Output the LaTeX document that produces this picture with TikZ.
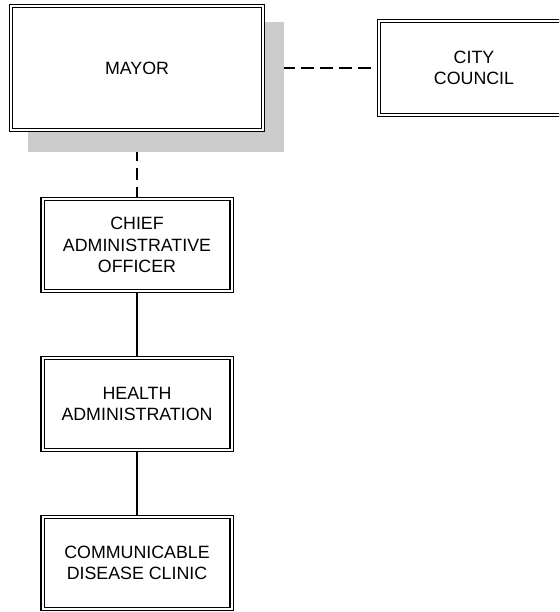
\documentclass[tikz,border=0pt]{standalone}
\usepackage{fontspec}
\setmainfont{Liberation Sans}
\usetikzlibrary{positioning,backgrounds}

\begin{document}
\begin{tikzpicture}[
    x=1pt, y=-1pt,
    node distance=67pt and 116pt,
    unit/.style={rectangle, draw=black, double=white, double distance=2pt,
                 line width=1.4pt, fill=white, align=center, inner sep=0pt,
                 outer sep=0pt, minimum width=189pt, minimum height=92pt,
                 font=\fontsize{17.8}{21.5}\selectfont},
    link/.style={line width=2.8pt, dash pattern=on 12.5pt off 6.5pt},
    tie/.style={line width=1.2pt}
]
\useasboundingbox (0,0) rectangle (559,612);
\clip (0,0) rectangle (559,612);

% Offices
\node[unit, minimum width=252pt, minimum height=124pt] (mayor) at (137,68) {MAYOR};
\node[unit, right=of mayor, minimum width=190pt, minimum height=94pt] (council) {CITY\\COUNCIL};
\node[unit, below=69pt of mayor] (cao) {CHIEF\\ADMINISTRATIVE\\OFFICER};
\node[unit, below=of cao] (health) {HEALTH\\ADMINISTRATION};
\node[unit, below=of health] (clinic) {COMMUNICABLE\\DISEASE CLINIC};

% Links, then the mayor's shadow over them
\begin{scope}[on background layer]
\draw[link] (mayor) -- (council);
\draw[link] (mayor) -- (cao);
\draw[tie] (cao) -- (health);
\draw[tie] (health) -- (clinic);
\fill[black!20] ([shift={(17,16)}]mayor.north west) rectangle ([shift={(21,22)}]mayor.south east);
\end{scope}

\end{tikzpicture}
\end{document}
